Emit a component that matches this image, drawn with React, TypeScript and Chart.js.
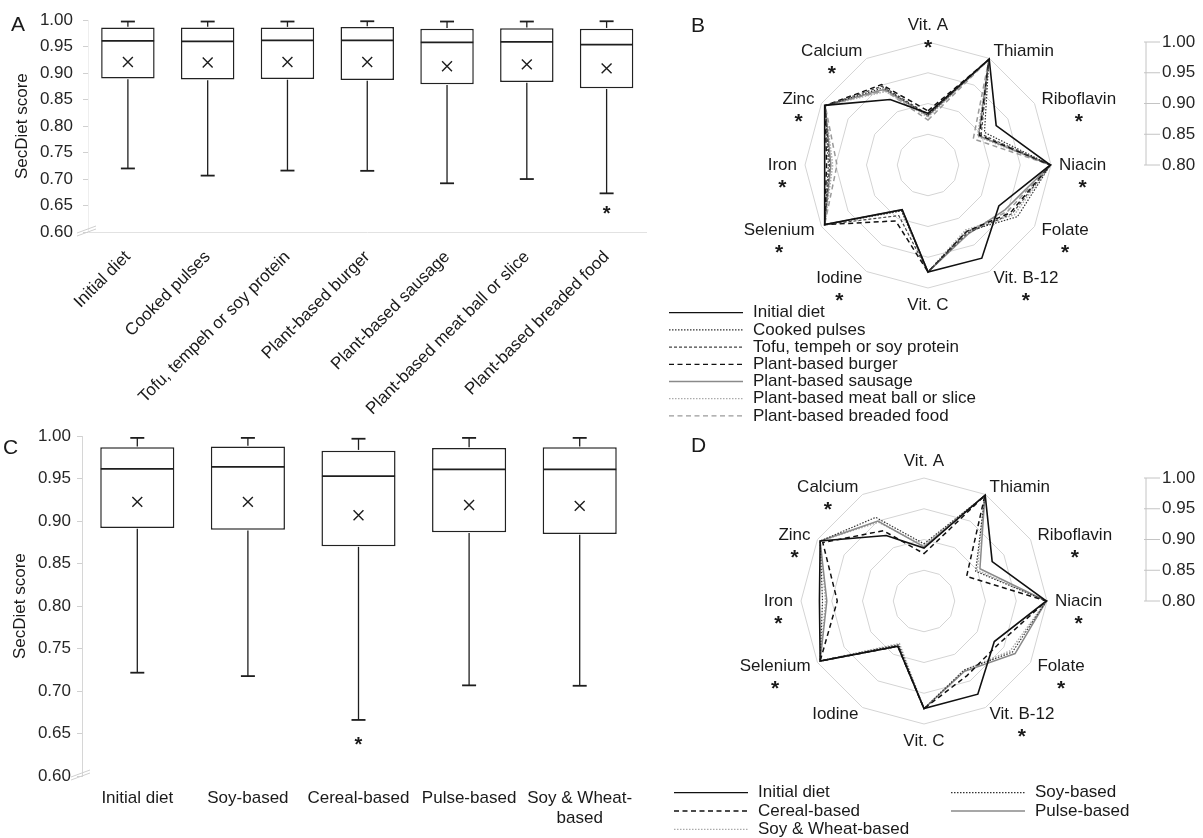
import React, { useEffect, useRef } from "react";
import { Chart, registerables } from "chart.js";

Chart.register(...registerables);

const FONT = "'Liberation Sans', Arial, Helvetica, sans-serif";
Chart.defaults.font.family = FONT;
Chart.defaults.color = "#1a1a1a";

// ---------- Panel A: box plots by food replacement ----------
const aCategories = [
  "Initial diet",
  "Cooked pulses",
  "Tofu, tempeh or soy protein",
  "Plant-based burger",
  "Plant-based sausage",
  "Plant-based meat ball or slice",
  "Plant-based breaded food",
];
const aMin = [0.72, 0.7065, 0.716, 0.7155, 0.692, 0.7, 0.673];
const aQ1 = [0.89, 0.888, 0.889, 0.887, 0.879, 0.8835, 0.8716];
const aMedian = [0.961, 0.96, 0.962, 0.962, 0.958, 0.959, 0.954];
const aQ3 = [0.986, 0.986, 0.986, 0.987, 0.984, 0.985, 0.984];
const aMax = [0.9975, 0.9975, 0.9975, 0.998, 0.9975, 0.9975, 0.998];
const aMean = [0.921, 0.92, 0.921, 0.921, 0.913, 0.9165, 0.909];
const aSignificant = [false, false, false, false, false, false, true];

// ---------- Panel C: box plots by diet type ----------
const cCategories = ["Initial diet", "Soy-based", "Cereal-based", "Pulse-based", ["Soy & Wheat-", "based"]];
const cMin = [0.7216, 0.7176, 0.666, 0.7067, 0.7062];
const cQ1 = [0.892, 0.89, 0.8706, 0.887, 0.885];
const cMedian = [0.9615, 0.964, 0.953, 0.961, 0.961];
const cQ3 = [0.987, 0.988, 0.983, 0.986, 0.987];
const cMax = [0.998, 0.998, 0.997, 0.998, 0.998];
const cMean = [0.9227, 0.9227, 0.907, 0.919, 0.918];
const cSignificant = [false, false, true, false, false];

const yTickValues = [0.6, 0.65, 0.7, 0.75, 0.8, 0.85, 0.9, 0.95, 1.0];

// ---------- Radar charts ----------
const nutrients = [
  "Vit. A", "Thiamin", "Riboflavin", "Niacin", "Folate", "Vit. B-12",
  "Vit. C", "Iodine", "Selenium", "Iron", "Zinc", "Calcium",
];
const bStars = [true, false, true, true, true, true, false, true, true, true, true, true];
const dStars = [false, false, true, true, true, true, false, false, true, true, true, true];
const radarTicks = [1.0, 0.95, 0.9, 0.85, 0.8];

// Panel B series
const bInitial = [0.884, 0.999, 0.928, 0.999, 0.933, 0.975, 0.974, 0.884, 0.994, 0.968, 0.994, 0.923];
const bCooked = [0.881, 0.998, 0.906, 0.999, 0.968, 0.925, 0.974, 0.886, 0.994, 0.962, 0.993, 0.945];
const bTofu = [0.882, 0.998, 0.9, 0.999, 0.958, 0.928, 0.974, 0.895, 0.994, 0.96, 0.993, 0.948];
const bBurger = [0.888, 0.998, 0.897, 0.999, 0.955, 0.925, 0.974, 0.905, 0.994, 0.965, 0.993, 0.951];
const bSausage = [0.88, 0.998, 0.895, 0.999, 0.945, 0.93, 0.974, 0.884, 0.994, 0.958, 0.993, 0.942];
const bMeatball = [0.878, 0.998, 0.893, 0.999, 0.962, 0.922, 0.974, 0.886, 0.994, 0.955, 0.993, 0.938];
const bBreaded = [0.873, 0.998, 0.885, 0.999, 0.95, 0.926, 0.974, 0.884, 0.994, 0.948, 0.993, 0.94];

// Panel D series
const dInitial = [0.886, 0.999, 0.928, 0.999, 0.932, 0.975, 0.975, 0.885, 0.995, 0.97, 0.995, 0.923];
const dSoy = [0.893, 0.998, 0.897, 0.999, 0.966, 0.93, 0.975, 0.882, 0.995, 0.965, 0.995, 0.957];
const dCereal = [0.877, 0.998, 0.88, 0.999, 0.94, 0.94, 0.975, 0.885, 0.995, 0.941, 0.99, 0.932];
const dPulse = [0.888, 0.998, 0.905, 0.999, 0.971, 0.932, 0.975, 0.885, 0.995, 0.958, 0.995, 0.95];
const dSoyWheat = [0.89, 0.998, 0.9, 0.999, 0.962, 0.93, 0.975, 0.88, 0.995, 0.96, 0.995, 0.948];

// ---------- plugins ----------
const boxPlugin = {
  id: "boxWhiskers",
  afterDatasetsDraw(chart: any, _a: any, opts: any) {
    const { ctx } = chart;
    const y = chart.scales.y;
    const meta = chart.getDatasetMeta(0);
    const ln = (x1: number, y1: number, x2: number, y2: number) => {
      ctx.beginPath();
      ctx.moveTo(x1, y1);
      ctx.lineTo(x2, y2);
      ctx.stroke();
    };
    ctx.save();
    ctx.strokeStyle = "#1e1e1e";
    meta.data.forEach((bar: any, i: number) => {
      const x = bar.x;
      const half = bar.width / 2;
      const pMin = y.getPixelForValue(opts.min[i]);
      const pQ1 = y.getPixelForValue(opts.q1[i]);
      const pMed = y.getPixelForValue(opts.median[i]);
      const pQ3 = y.getPixelForValue(opts.q3[i]);
      const pMax = y.getPixelForValue(opts.max[i]);
      ctx.lineWidth = 1.3;
      ln(x, pQ1 + 0.75, x, pMin);
      ln(x, pQ3 - 0.75, x, pMax);
      ctx.lineWidth = 1.8;
      ln(x - 7, pMin, x + 7, pMin);
      ln(x - 7, pMax, x + 7, pMax);
      ctx.lineWidth = 1.7;
      ln(x - half + 0.5, pMed, x + half - 0.5, pMed);
      if (opts.sig[i]) {
        ctx.fillStyle = "#1a1a1a";
        ctx.font = `bold 20px ${FONT}`;
        ctx.textAlign = "center";
        ctx.textBaseline = "alphabetic";
        ctx.fillText("*", x, pMin + opts.starGap + 11.7);
      }
    });
    // axis break marks
    const area = chart.chartArea;
    ctx.strokeStyle = "#cfcfcf";
    ctx.lineWidth = 1;
    ln(area.left - 11, area.bottom + 1, area.left + 8, area.bottom - 6);
    ln(area.left - 11, area.bottom + 4, area.left + 8, area.bottom - 3);
    ctx.restore();
  },
};

const radarDecor = {
  id: "radarDecor",
  afterDraw(chart: any, _a: any, opts: any) {
    const { ctx } = chart;
    const scale = chart.scales.r;
    const labels = chart.data.labels as string[];
    const n = labels.length;
    const outer = scale.getDistanceFromCenterForValue(scale.max);
    ctx.save();
    ctx.fillStyle = "#1a1a1a";
    for (let i = 0; i < n; i++) {
      const p = scale.getPointPosition(i, outer + opts.labelGap);
      const ang = Math.round((i * 360) / n) % 360;
      ctx.font = `17px ${FONT}`;
      const w = ctx.measureText(labels[i]).width;
      let cx = p.x;
      let cy = p.y;
      if (ang === 0) cy = p.y - 9;
      else if (ang === 180) cy = p.y + 9;
      else if (ang < 180) cx = p.x + w / 2;
      else cx = p.x - w / 2;
      ctx.textAlign = "center";
      ctx.textBaseline = "middle";
      ctx.fillText(labels[i], cx, cy);
      if (opts.stars[i]) {
        ctx.font = `bold 21px ${FONT}`;
        ctx.textBaseline = "alphabetic";
        ctx.fillText("*", cx, cy + 16.5 + 12.3);
      }
    }
    // side scale
    const ax = opts.scaleX;
    const yOf = (v: number) => scale.yCenter - scale.getDistanceFromCenterForValue(v);
    ctx.strokeStyle = "#c4c4c4";
    ctx.lineWidth = 1;
    ctx.beginPath();
    ctx.moveTo(ax, yOf(scale.max));
    ctx.lineTo(ax, yOf(scale.min));
    ctx.stroke();
    ctx.font = `17px ${FONT}`;
    ctx.textAlign = "left";
    ctx.textBaseline = "middle";
    ctx.fillStyle = "#262626";
    opts.ticks.forEach((v: number) => {
      const yy = yOf(v);
      ctx.beginPath();
      ctx.moveTo(ax - 2, yy);
      ctx.lineTo(ax + 14, yy);
      ctx.stroke();
      ctx.fillText(v.toFixed(2), ax + 16, yy);
    });
    // legend
    chart.data.datasets.forEach((ds: any, i: number) => {
      const pos = opts.legend[i];
      ctx.strokeStyle = ds.borderColor;
      ctx.lineWidth = Math.min(ds.borderWidth, 1.3);
      ctx.setLineDash(ds.borderDash || []);
      ctx.beginPath();
      ctx.moveTo(pos.x, pos.y);
      ctx.lineTo(pos.x + opts.legendLine, pos.y);
      ctx.stroke();
      ctx.setLineDash([]);
      ctx.fillStyle = "#1a1a1a";
      ctx.font = `17px ${FONT}`;
      ctx.fillText(ds.label, pos.x + opts.legendLine + 10, pos.y);
    });
    ctx.restore();
  },
};

// ---------- config builders ----------
function boxConfig(p: any) {
  return {
    type: "bar",
    data: {
      labels: p.labels,
      datasets: [
        {
          type: "bar",
          data: p.q1.map((v: number, i: number) => [v, p.q3[i]]),
          backgroundColor: "#ffffff",
          borderColor: "#222222",
          borderWidth: 1.5,
          borderSkipped: false,
          barPercentage: 0.67,
          categoryPercentage: 1,
          order: 2,
        },
        {
          type: "line",
          data: p.mean,
          showLine: false,
          pointStyle: "crossRot",
          pointRadius: 7,
          pointBorderColor: "#1e1e1e",
          pointBorderWidth: 1.4,
          pointBackgroundColor: "rgba(0,0,0,0)",
          order: 1,
        },
      ],
    },
    options: {
      responsive: false,
      animation: false,
      events: [],
      layout: { padding: p.padding, autoPadding: false },
      plugins: {
        legend: { display: false },
        tooltip: { enabled: false },
        boxWhiskers: {
          min: p.min, q1: p.q1, median: p.median, q3: p.q3, max: p.max, sig: p.sig, starGap: p.starGap,
        },
      },
      scales: {
        x: {
          grid: { display: false, drawTicks: false },
          border: { display: true, color: p.xBorder },
          ticks: {
            autoSkip: false,
            minRotation: p.rotate,
            maxRotation: p.rotate,
            padding: p.xPad,
            font: { size: 17 },
            color: "#1a1a1a",
          },
          afterFit: (s: any) => { s.height = p.xHeight; },
        },
        y: {
          min: 0.6,
          max: 1.0,
          afterBuildTicks: (s: any) => { s.ticks = yTickValues.map((v) => ({ value: v })); },
          grid: { drawOnChartArea: false, drawTicks: true, tickLength: 5, color: "#d0d0d0" },
          border: { display: true, color: p.yBorder },
          ticks: {
            padding: p.yPad,
            font: { size: 17 },
            color: "#262626",
            callback: (v: number) => Number(v).toFixed(2),
          },
          title: {
            display: true,
            text: "SecDiet score",
            font: { size: 17 },
            color: "#1a1a1a",
            padding: { top: p.titlePad, bottom: 0 },
          },
          afterFit: (s: any) => { s.width = p.yWidth; },
        },
      },
    },
    plugins: [boxPlugin],
  };
}

function radarConfig(p: any) {
  return {
    type: "radar",
    data: {
      labels: nutrients,
      datasets: p.series.map((s: any) => ({
        label: s.label,
        data: s.data,
        borderColor: s.color,
        borderWidth: s.width,
        borderDash: s.dash,
        fill: false,
        pointRadius: 0,
        tension: 0,
      })),
    },
    options: {
      responsive: false,
      animation: false,
      events: [],
      layout: { padding: p.padding },
      plugins: {
        legend: { display: false },
        tooltip: { enabled: false },
        radarDecor: {
          stars: p.stars,
          labelGap: 8,
          scaleX: p.scaleX,
          ticks: radarTicks,
          legend: p.legend,
          legendLine: 74,
        },
      },
      scales: {
        r: {
          min: 0.8,
          max: 1.0,
          ticks: { stepSize: 0.05, display: false },
          grid: { color: "#d4d4d4", lineWidth: 1 },
          angleLines: { display: false },
          pointLabels: { display: false },
        },
      },
    },
    plugins: [radarDecor],
  };
}

const configA = () =>
  boxConfig({
    labels: aCategories, min: aMin, q1: aQ1, median: aMedian, q3: aQ3, max: aMax, mean: aMean, sig: aSignificant,
    padding: { top: 18, right: 13.5, left: 0, bottom: 0 },
    yWidth: 88, xHeight: 200, rotate: 45, xPad: 15, yPad: 10, titlePad: 12, starGap: 15,
    xBorder: "#e2e2e2", yBorder: "#eeeeee",
  });

const configC = () =>
  boxConfig({
    labels: cCategories, min: cMin, q1: cQ1, median: cMedian, q3: cQ3, max: cMax, mean: cMean, sig: cSignificant,
    padding: { top: 16, right: 15, left: 0, bottom: 0 },
    yWidth: 82, xHeight: 62, rotate: 0, xPad: 12, yPad: 6, titlePad: 10, starGap: 19,
    xBorder: "rgba(0,0,0,0)", yBorder: "#d6d6d6",
  });

const bSeries = [
  { label: "Initial diet", data: bInitial, color: "#111111", width: 1.6, dash: [] },
  { label: "Cooked pulses", data: bCooked, color: "#333333", width: 1.2, dash: [1.5, 1.5] },
  { label: "Tofu, tempeh or soy protein", data: bTofu, color: "#444444", width: 1.2, dash: [3, 2] },
  { label: "Plant-based burger", data: bBurger, color: "#111111", width: 1.5, dash: [5, 3.5] },
  { label: "Plant-based sausage", data: bSausage, color: "#8a8a8a", width: 1.5, dash: [] },
  { label: "Plant-based meat ball or slice", data: bMeatball, color: "#ababab", width: 1.5, dash: [1.5, 1.5] },
  { label: "Plant-based breaded food", data: bBreaded, color: "#9a9a9a", width: 1.5, dash: [5, 3.5] },
];

const dSeries = [
  { label: "Initial diet", data: dInitial, color: "#111111", width: 1.6, dash: [] },
  { label: "Soy-based", data: dSoy, color: "#333333", width: 1.2, dash: [1.5, 1.5] },
  { label: "Cereal-based", data: dCereal, color: "#111111", width: 1.5, dash: [5, 3.5] },
  { label: "Pulse-based", data: dPulse, color: "#8a8a8a", width: 1.5, dash: [] },
  { label: "Soy & Wheat-based", data: dSoyWheat, color: "#ababab", width: 1.5, dash: [1.5, 1.5] },
];

const bLegend = bSeries.map((_, i) => ({ x: 49, y: 312.7 + i * 17.2 }));
const dLegend = [
  { x: 54, y: 352.7 },
  { x: 331, y: 352.7 },
  { x: 54, y: 371 },
  { x: 331, y: 371 },
  { x: 54, y: 389.3 },
];

const configB = () =>
  radarConfig({
    series: bSeries, stars: bStars, legend: bLegend, scaleX: 526,
    padding: { left: 185, top: 42, right: 152, bottom: 152 },
  });

const configD = () =>
  radarConfig({
    series: dSeries, stars: dStars, legend: dLegend, scaleX: 526,
    padding: { left: 181, top: 38, right: 155, bottom: 113 },
  });

function ChartCanvas(props: { make: () => any; left: number; top: number; width: number; height: number }) {
  const ref = useRef<HTMLCanvasElement | null>(null);
  useEffect(() => {
    if (!ref.current) return;
    const chart = new Chart(ref.current, props.make());
    return () => chart.destroy();
  }, []);
  return (
    <canvas
      ref={ref}
      width={props.width}
      height={props.height}
      style={{ position: "absolute", left: props.left, top: props.top, width: props.width, height: props.height }}
    />
  );
}

const letterStyle = (left: number, top: number): React.CSSProperties => ({
  position: "absolute",
  left,
  top,
  fontFamily: FONT,
  fontSize: 21,
  lineHeight: "22px",
  color: "#1a1a1a",
});

export default function App() {
  return (
    <div style={{ position: "fixed", left: 0, top: 0, width: 1203, height: 838, background: "#ffffff", overflow: "hidden" }}>
      <ChartCanvas make={configA} left={0} top={0} width={660} height={432} />
      <ChartCanvas make={configC} left={0} top={420} width={650} height={418} />
      <ChartCanvas make={configB} left={620} top={0} width={583} height={440} />
      <ChartCanvas make={configD} left={620} top={440} width={583} height={398} />
      <div style={letterStyle(11, 13)}>A</div>
      <div style={letterStyle(691, 14)}>B</div>
      <div style={letterStyle(3, 436)}>C</div>
      <div style={letterStyle(691, 434)}>D</div>
    </div>
  );
}
